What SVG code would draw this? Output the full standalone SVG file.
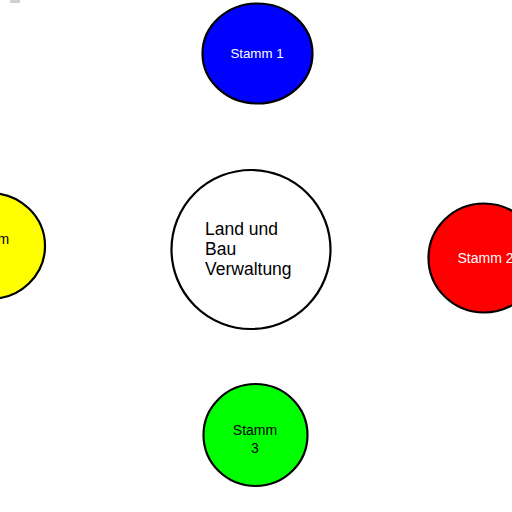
<svg xmlns="http://www.w3.org/2000/svg" width="512" height="512" viewBox="0 0 512 512">
<style>
.n{stroke:#000;stroke-width:2.2}
.t{font-family:"Liberation Sans",Arial,sans-serif;font-size:14px;text-anchor:middle}
.c{font-family:"Liberation Sans",Arial,sans-serif;font-size:17.5px;fill:#000}
</style>
<rect x="0" y="0" width="512" height="512" fill="#fff"/>
<rect x="10" y="0" width="10" height="3" fill="#d0d0d0"/>
<g id="connectors"></g>
<g id="center">
<circle class="n" cx="251" cy="249.5" r="79.5" fill="#fff"/>
<text class="c" x="205" y="235">Land und</text>
<text class="c" x="205" y="254.5">Bau</text>
<text class="c" x="205" y="274.5">Verwaltung</text>
</g>
<g id="stamm1">
<ellipse class="n" cx="257.5" cy="53.5" rx="55" ry="50" fill="#0000ff"/>
<text class="t" x="257" y="58" fill="#fff" style="font-size:13.3px">Stamm 1</text>
</g>
<g id="stamm2">
<ellipse class="n" cx="484" cy="258" rx="55.5" ry="54.5" fill="#ff0000"/>
<text class="t" x="485.5" y="263" fill="#fff">Stamm 2</text>
</g>
<g id="stamm3">
<ellipse class="n" cx="255.5" cy="435" rx="52" ry="51" fill="#00ff00"/>
<text class="t" x="255" y="434.5" fill="#000">Stamm</text>
<text class="t" x="255" y="452.5" fill="#000">3</text>
</g>
<g id="stamm4">
<ellipse class="n" cx="-10" cy="246" rx="55" ry="53" fill="#ffff00"/>
<text class="t" x="-13" y="244" fill="#000">Stamm</text>
<text class="t" x="-13" y="262" fill="#000">4</text>
</g>
</svg>
